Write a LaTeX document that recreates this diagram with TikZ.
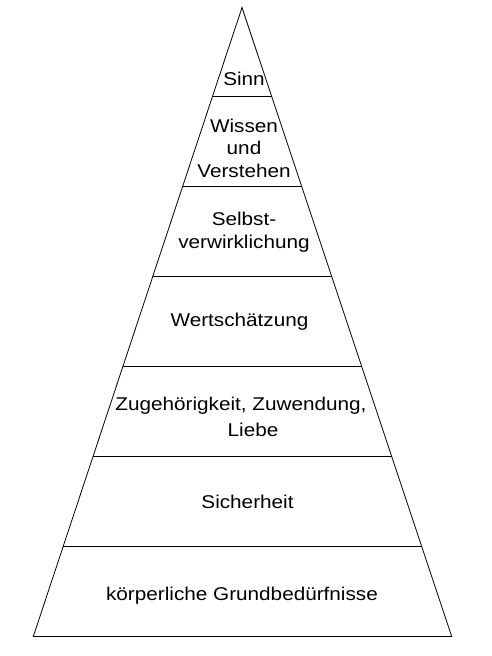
\documentclass[tikz,border=0pt]{standalone}
\usepackage{fontspec}
\setmainfont{Liberation Sans}[FakeStretch=1.12]
\usepackage{xcolor}
\usetikzlibrary{positioning,calc}

\begin{document}
\begin{tikzpicture}[x=1pt,y=-1pt,
  stufe/.style={text=drawColor,anchor=base,align=center,inner sep=0pt,outer sep=0pt,
    font=\fontsize{18.5}{22.5}\selectfont},
  kante/.style={draw=drawColor,line width=0.8pt,line join=miter}]
\definecolor{fillColor}{RGB}{255,255,255}
\definecolor{drawColor}{RGB}{0,0,0}
\path[use as bounding box,fill=fillColor] (0,0) rectangle (491,656);

% Pyramide
\coordinate (spitze) at (242,7.5);
\coordinate (links) at (33.3,636.5);
\coordinate (rechts) at (451.7,636.5);
\path[kante] (spitze) -- (links) -- (rechts) -- cycle;

% Trennlinien
\foreach \y in {96,186,276,366,456,546}
  \path[kante] ($(spitze)!{(\y-7.5)/629}!(links)$) -- ($(spitze)!{(\y-7.5)/629}!(rechts)$);

% Stufen (base = letzte Zeile)
\node[stufe] (sinn) at (244,85) {Sinn};
\node[stufe] (wissen) at (244,177) {Wissen\\und\\Verstehen};
\node[stufe] (selbst) at (244,248.3) {Selbst-\\verwirklichung};
\node[stufe] (wert) at (239.5,326) {Wertschätzung};
\node[stufe] (liebe) at (241,436) {Zugehörigkeit, Zuwendung,\\[3.5pt]\hspace*{24pt}Liebe};
\node[stufe] (sicher) at (247.5,508.3) {Sicherheit};
\node[stufe] (koerper) at (242,600.7) {körperliche Grundbedürfnisse};
\end{tikzpicture}
\end{document}
